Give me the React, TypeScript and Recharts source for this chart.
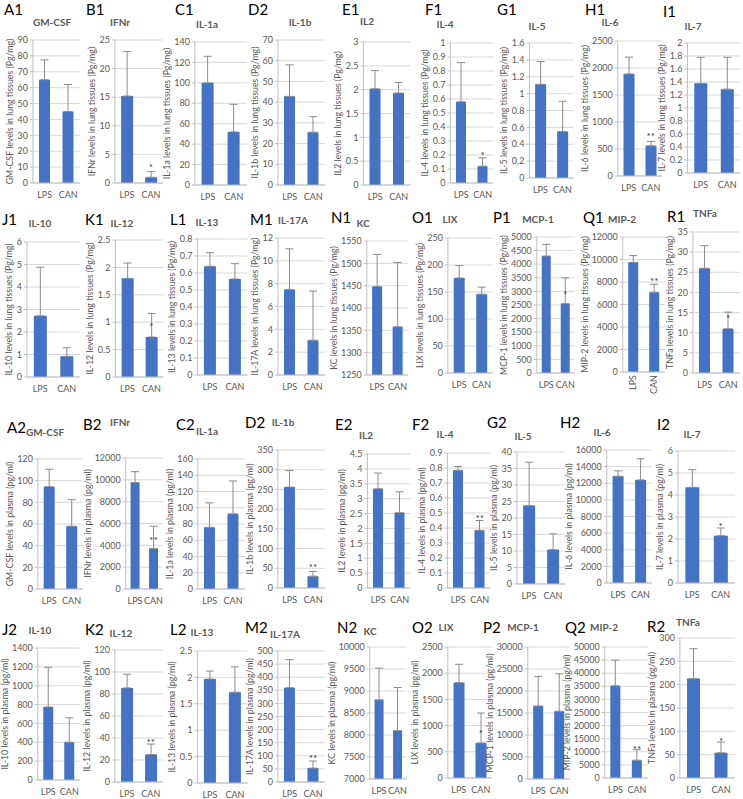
import React from 'react';
import { BarChart, Bar, XAxis, YAxis, CartesianGrid, ErrorBar, ReferenceDot } from 'recharts';

// groups on the x axis
const groups = ['LPS', 'CAN'];

const cytokines = ['GM-CSF', 'IFNr', 'IL-1a', 'IL-1b', 'IL2', 'IL-4', 'IL-5', 'IL-6', 'IL-7',
  'IL-10', 'IL-12', 'IL-13', 'IL-17A', 'KC', 'LIX', 'MCP-1', 'MIP-2', 'TNFa'];

// panel letters (the IL-1b lung panel really is labelled D2 in the figure)
const lungLetters = ['A1', 'B1', 'C1', 'D2', 'E1', 'F1', 'G1', 'H1', 'I1',
  'J1', 'K1', 'L1', 'M1', 'N1', 'O1', 'P1', 'Q1', 'R1'];
const plasmaLetters = ['A2', 'B2', 'C2', 'D2', 'E2', 'F2', 'G2', 'H2', 'I2',
  'J2', 'K2', 'L2', 'M2', 'N2', 'O2', 'P2', 'Q2', 'R2'];

// lung tissues (Pg/mg)
const lungLps = [65, 15.2, 100, 42.8, 2.02, 0.58, 1.11, 1890, 1.38, 2.72, 1.8, 0.64, 7.5, 1448, 176, 4300, 9750, 26];
const lungLpsSd = [12.5, 7.8, 26, 15.2, 0.38, 0.28, 0.27, 310, 0.4, 2.16, 0.28, 0.08, 3.55, 72, 23, 430, 600, 5.6];
const lungCan = [45, 1.0, 52, 25.5, 1.93, 0.12, 0.55, 560, 1.29, 0.92, 0.73, 0.565, 3.05, 1358, 146, 2550, 7100, 11];
const lungCanSd = [17, 1.0, 27, 7.5, 0.22, 0.06, 0.36, 80, 0.49, 0.38, 0.43, 0.09, 4.3, 144, 13, 950, 700, 4.1];
const lungStars = ['', '*', '', '', '', '*', '', '**', '', '', '*', '', '', '', '', '*', '**', '*'];
const lungStarAt = [0, 3.0, 0, 0, 0, 0.21, 0, 760, 0, 0, 0.95, 0, 0, 0, 0, 2950, 8150, 14];
const lungAxis = [[0, 90, 10], [0, 25, 5], [0, 140, 20], [0, 70, 10], [0, 3, 0.5], [0, 1, 0.1], [0, 1.6, 0.2],
  [0, 2500, 500], [0, 2, 0.2], [0, 6, 1], [0, 2.5, 0.5], [0, 0.8, 0.1], [0, 12, 2], [1250, 1550, 50],
  [0, 250, 50], [0, 5000, 500], [0, 12000, 2000], [0, 35, 5]];

// plasma (pg/ml)
const plasmaLps = [94.5, 9750, 76, 256, 3.33, 0.785, 23.8, 12850, 4.35, 775, 85.5, 1.97, 360, 8800, 1820, 16600, 35200, 213];
const plasmaLpsSd = [16, 1000, 30, 42, 0.53, 0.025, 13.1, 650, 0.8, 420, 12.5, 0.15, 107, 720, 350, 6700, 9800, 64];
const plasmaCan = [58, 3700, 92.5, 30, 2.53, 0.385, 10.4, 12400, 2.15, 400, 25, 1.72, 53, 8100, 670, 15400, 6800, 54];
const plasmaCanSd = [24.5, 2050, 40.5, 12, 0.7, 0.065, 4.8, 2550, 0.35, 260, 9.5, 0.48, 27, 980, 570, 8500, 4000, 23];
const plasmaStars = ['', '**', '', '**', '', '**', '', '', '*', '', '**', '', '**', '', '*', '', '**', '*'];
const plasmaStarAt = [0, 4600, 0, 57, 0, 0.47, 0, 0, 2.65, 0, 37, 0, 95, 0, 870, 0, 11500, 82];
const plasmaAxis = [[0, 120, 20], [0, 12000, 2000], [0, 160, 20], [0, 350, 50], [0, 4.5, 0.5], [0, 0.9, 0.1],
  [0, 40, 5], [0, 16000, 2000], [0, 6, 1], [0, 1400, 200], [0, 120, 20], [0, 2.5, 0.5], [0, 500, 50],
  [7000, 10000, 500], [0, 2500, 500], [0, 30000, 5000], [0, 50000, 5000], [0, 300, 50]];

// page layout per panel: axisX, plotTop, plotBottom, plotRight, letterX, letterY, titleX, titleY
const LAYOUT = [
  [33, 40, 183, 80, 4, 10, 52, 23], [115, 40, 183, 163, 86, 10, 120, 23], [195, 42, 185, 247, 175, 10, 207, 25],
  [278, 40, 185, 325, 248, 10, 300, 23], [363, 42, 185, 410, 342, 10, 367, 22], [450, 43, 183, 493, 425, 10, 445, 25],
  [529, 43, 178, 573, 497, 10, 537, 27], [618, 41, 176, 662, 585, 10, 610, 23], [687, 43, 173, 740, 663, 12, 693, 27],
  [27, 242, 377, 80, 2, 220, 40, 224], [115, 240, 377, 163, 85, 220, 122, 224], [197, 239, 375, 247, 170, 220, 207, 223],
  [278, 238, 375, 325, 250, 220, 293, 221], [367, 241, 375, 408, 331, 218, 363, 224], [448, 238, 373, 493, 412, 218, 450, 220],
  [537, 237, 373, 575, 493, 218, 538, 220], [623, 237, 372, 665, 583, 218, 622, 220], [693, 232, 373, 740, 667, 217, 705, 214],
  [38, 459, 589, 83, 7, 428, 45, 433], [126, 458, 589, 163, 83, 425, 120, 423], [198, 459, 589, 245, 176, 425, 207, 432],
  [278, 450, 588, 325, 245, 423, 283, 423], [367, 454, 588, 410, 335, 425, 366, 436], [447, 453, 588, 490, 412, 425, 445, 435],
  [517, 452, 584, 565, 487, 423, 523, 437], [607, 450, 583, 652, 560, 423, 602, 433], [678, 451, 583, 735, 657, 425, 692, 435],
  [38, 648, 780, 80, 2, 630, 40, 631], [115, 650, 782, 163, 85, 630, 121, 634], [197, 651, 783, 247, 170, 630, 202, 633],
  [278, 651, 782, 325, 245, 628, 285, 635], [370, 647, 779, 407, 337, 628, 370, 632], [448, 647, 778, 492, 412, 628, 446, 628],
  [528, 647, 779, 570, 483, 628, 523, 628], [605, 647, 778, 648, 565, 628, 604, 628], [680, 638, 778, 735, 647, 627, 688, 623],
];

const FONT = 'Lato, "Open Sans", sans-serif';
const GREY = '#595959';
const TICK_FS = 9;

const fmt = (v: number) => String(+v.toFixed(4));
const textW = (s: string) => s.split('').reduce((w, c) => w + (c === '.' ? 0.28 : 0.55) * TICK_FS, 0);

const makeTicks = (min: number, max: number, step: number) => {
  const n = Math.round((max - min) / step);
  return Array.from({ length: n + 1 }, (_, k) => +(min + k * step).toFixed(6));
};

const RotatedTick = (p: any) => (
  <text x={p.x} y={p.y} transform={`rotate(-90 ${p.x} ${p.y})`} textAnchor="end" dy="0.35em"
    fontSize={TICK_FS} fill={GREY} fontFamily={FONT}>{p.payload.value}</text>
);

const panels = [
  ...cytokines.map((c, k) => ({
    letter: lungLetters[k], title: c, yLabel: `${c} levels in lung tissues (Pg/mg)`,
    lps: lungLps[k], lpsSd: lungLpsSd[k], can: lungCan[k], canSd: lungCanSd[k],
    star: lungStars[k], starAt: lungStarAt[k], axis: lungAxis[k],
  })),
  ...cytokines.map((c, k) => ({
    letter: plasmaLetters[k], title: c, yLabel: `${c} levels in plasma (pg/ml)`,
    lps: plasmaLps[k], lpsSd: plasmaLpsSd[k], can: plasmaCan[k], canSd: plasmaCanSd[k],
    star: plasmaStars[k], starAt: plasmaStarAt[k], axis: plasmaAxis[k],
  })),
];

function Panel({ i }: { i: number }) {
  const p = panels[i];
  const [ax, top, bottom, right, lx, ly, tx, ty] = LAYOUT[i];
  const [min, max, step] = p.axis;
  const ticks = makeTicks(min, max, step);
  const tickW = Math.max(...ticks.map((t) => textW(fmt(t))));
  const labelX = ax - tickW - 13;
  const left = labelX - 6;
  const yw = ax - left;
  const mTop = 6;
  const xh = 24;
  const width = right - left + 3;
  const height = bottom - top + mTop + xh;
  const rotated = i === 16;

  const rows = [
    { group: groups[0], mean: p.lps, err: [0, p.lpsSd] },
    { group: groups[1], mean: p.can, err: [0, p.canSd] },
  ];

  return (
    <>
      <div style={{ position: 'absolute', left: lx, top: ly - 8, fontSize: 15, lineHeight: 1, color: '#000' }}>{p.letter}</div>
      <div style={{ position: 'absolute', left: tx - 40, width: 80, top: ty - 6, textAlign: 'center', fontSize: 10, lineHeight: 1, fontWeight: 700, color: GREY }}>{p.title}</div>
      <div style={{ position: 'absolute', left, top: top - mTop }}>
        <BarChart width={width} height={height} data={rows} margin={{ top: mTop, right: 3, left: 0, bottom: 0 }} barCategoryGap="26%">
          <CartesianGrid vertical={false} stroke="#d9d9d9" />
          <XAxis dataKey="group" height={xh} interval={0} tickLine={false} tickSize={0} tickMargin={rotated ? 3 : 9}
            axisLine={{ stroke: '#bfbfbf' }}
            tick={rotated ? <RotatedTick /> : { fontSize: TICK_FS, fill: GREY, fontFamily: FONT }} />
          <YAxis width={yw} domain={[min, max]} ticks={ticks} allowDataOverflow interval={0}
            tickFormatter={fmt} tickSize={3} tickMargin={2}
            tickLine={{ stroke: '#bfbfbf' }} axisLine={{ stroke: '#bfbfbf' }}
            tick={{ fontSize: TICK_FS, fill: GREY, fontFamily: FONT }}
            label={{ value: p.yLabel, angle: -90, position: 'insideLeft', offset: 6,
              style: { textAnchor: 'middle', fontSize: 8.8, fill: GREY, fontFamily: FONT } }} />
          <Bar dataKey="mean" fill="#4472C4" isAnimationActive={false}>
            <ErrorBar dataKey="err" width={4} stroke="#8c8c8c" strokeWidth={1} direction="y" />
          </Bar>
          {p.star && (
            <ReferenceDot x={groups[1]} y={p.starAt} r={1}
              shape={(s: any) => (
                <text x={s.cx} y={s.cy} dy={5} textAnchor="middle" fontSize={10} fill="#404040" fontFamily={FONT}>{p.star}</text>
              )} />
          )}
        </BarChart>
      </div>
    </>
  );
}

export default function App() {
  return (
    <div style={{ position: 'absolute', left: 0, top: 0, width: 743, height: 799, background: '#fff', fontFamily: FONT, overflow: 'hidden' }}>
      {panels.map((_, i) => <Panel key={i} i={i} />)}
    </div>
  );
}
